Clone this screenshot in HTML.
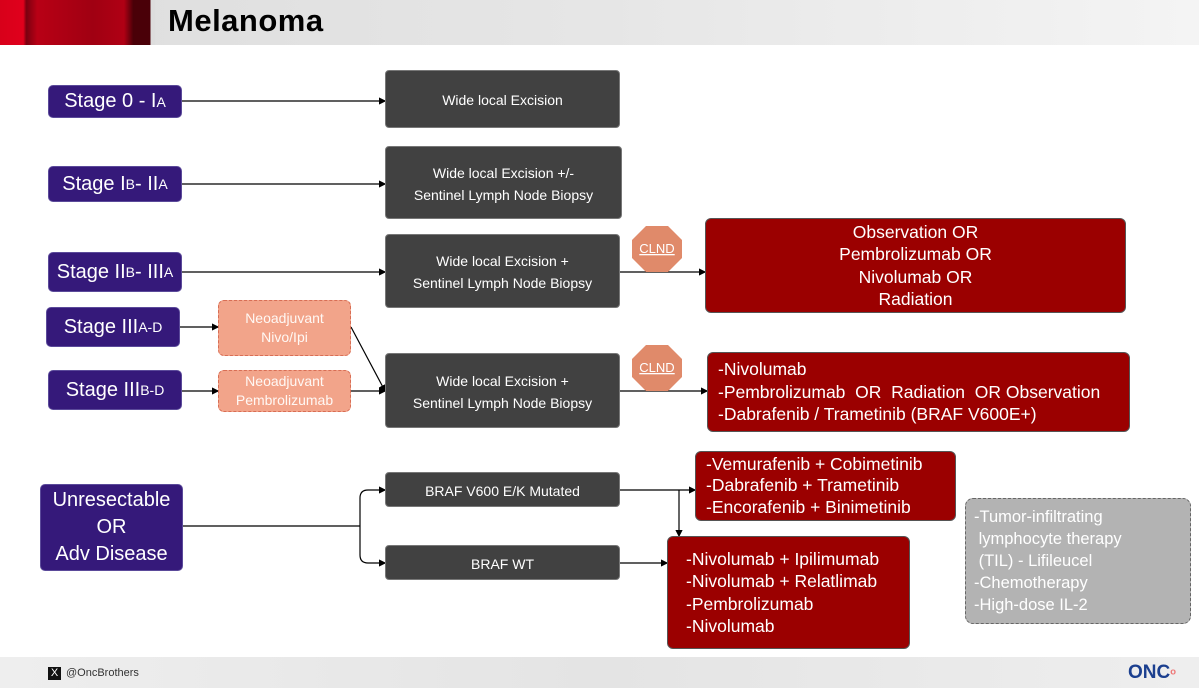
<!DOCTYPE html><html><head><meta charset="utf-8"><style>
body{margin:0;width:1199px;height:688px;position:relative;overflow:hidden;background:#fff;font-family:"Liberation Sans",sans-serif}
.b{position:absolute;box-sizing:border-box;display:flex;align-items:center;justify-content:center;text-align:center;color:#fff}
.p{background:#35197a;border-radius:5px;font-size:20px;border:1px solid #5b4a9a}
.g{background:#414141;border-radius:4px;font-size:14px;line-height:22px;border:1px solid #777;padding-top:2px}
.n{background:#f2a48a;border:1.5px dashed #d86e55;border-radius:6px;font-size:14px;line-height:19px;color:#fff8f4}
.r{background:#9b0000;border-radius:6px;font-size:17.5px;line-height:22.5px;border:1px solid #555}
.l{justify-content:flex-start;text-align:left}
sub{font-size:14px;vertical-align:baseline}
</style></head><body>
<div style="position:absolute;left:0;top:0;width:1199px;height:45px;background:linear-gradient(90deg,#ddd 0,#e6e6e6 50%,#f4f4f4 100%)"></div>
<div style="position:absolute;left:0;top:0;width:155px;height:45px;background:linear-gradient(90deg,#d8001a 0,#e0001c 15%,#7a0010 17%,#b80015 24%,#a00012 60%,#b00014 80%,#4a0008 86%,#4a0008 97%,#ddd 97%)"></div>
<div style="position:absolute;left:168px;top:3px;font-size:31px;font-weight:bold;color:#000;letter-spacing:0.5px">Melanoma</div>
<div style="position:absolute;left:0;top:657px;width:1199px;height:31px;background:linear-gradient(90deg,#eee,#e4e4e4 50%,#eee)"></div>
<div style="position:absolute;left:48px;top:667px;width:13px;height:13px;background:#111;color:#fff;font-size:11px;line-height:13px;text-align:center">X</div>
<div style="position:absolute;left:66px;top:667px;font-size:11px;color:#333">@OncBrothers</div>
<div style="position:absolute;left:1128px;top:662px;font-size:19px;font-weight:bold;color:#1b3f8f">ONC<span style="color:#e77;font-size:14px">ᵒ</span></div>
<svg style="position:absolute;left:0;top:0" width="1199" height="688"><defs><marker id="a" markerWidth="6" markerHeight="6" refX="5" refY="3" orient="auto"><path d="M0,0L6,3L0,6z" fill="#000"/></marker></defs>
<g stroke="#000" stroke-width="1.2" fill="none" marker-end="url(#a)">
<path d="M182,101H385"/><path d="M182,184H385"/><path d="M182,272H385"/><path d="M180,327H218"/><path d="M182,391H218"/><path d="M351,327L385,391"/><path d="M351,391H385"/><path d="M620,272H705"/><path d="M620,391H707"/>
<path d="M360,526V498Q360,490 368,490H385"/><path d="M360,526V555Q360,563 368,563H385"/>
<path d="M620,490H695"/><path d="M679,490V536"/><path d="M620,563H667"/></g>
<path d="M183,526H360" stroke="#000" stroke-width="1.2"/>
<polygon points="646,226 668,226 682,240 682,258 668,272 646,272 632,258 632,240" fill="#e08a6a"/>
<polygon points="646,345 668,345 682,359 682,377 668,391 646,391 632,377 632,359" fill="#e08a6a"/>
<text x="657" y="253" font-size="13" fill="#fff" text-anchor="middle" text-decoration="underline" font-family="Liberation Sans">CLND</text>
<text x="657" y="372" font-size="13" fill="#fff" text-anchor="middle" text-decoration="underline" font-family="Liberation Sans">CLND</text>
</svg>
<div class="b p" style="left:48px;top:85px;width:134px;height:33px">Stage 0 - I<sub>A</sub></div>
<div class="b p" style="left:48px;top:166px;width:134px;height:36px">Stage I<sub>B</sub> - II<sub>A</sub></div>
<div class="b p" style="left:48px;top:252px;width:134px;height:40px">Stage II<sub>B</sub> - III<sub>A</sub></div>
<div class="b p" style="left:46px;top:307px;width:134px;height:40px">Stage III<sub>A-D</sub></div>
<div class="b p" style="left:48px;top:370px;width:134px;height:40px">Stage III<sub>B-D</sub></div>
<div class="b p" style="left:40px;top:484px;width:143px;height:87px;line-height:27px">Unresectable<br>OR<br>Adv Disease</div>
<div class="b g" style="left:385px;top:70px;width:235px;height:58px">Wide local Excision</div>
<div class="b g" style="left:385px;top:146px;width:237px;height:73px">Wide local Excision +/-<br>Sentinel Lymph Node Biopsy</div>
<div class="b g" style="left:385px;top:234px;width:235px;height:74px">Wide local Excision +<br>Sentinel Lymph Node Biopsy</div>
<div class="b g" style="left:385px;top:353px;width:235px;height:75px">Wide local Excision +<br>Sentinel Lymph Node Biopsy</div>
<div class="b g" style="left:385px;top:472px;width:235px;height:35px">BRAF V600 E/K Mutated</div>
<div class="b g" style="left:385px;top:545px;width:235px;height:35px">BRAF WT</div>
<div class="b n" style="left:218px;top:300px;width:133px;height:56px">Neoadjuvant<br>Nivo/Ipi</div>
<div class="b n" style="left:218px;top:370px;width:133px;height:42px">Neoadjuvant<br>Pembrolizumab</div>
<div class="b r" style="left:705px;top:218px;width:421px;height:95px">Observation OR<br>Pembrolizumab OR<br>Nivolumab OR<br>Radiation</div>
<div class="b r l" style="left:707px;top:352px;width:423px;height:80px;padding-left:10px">-Nivolumab<br>-Pembrolizumab&nbsp; OR&nbsp; Radiation&nbsp; OR Observation<br>-Dabrafenib / Trametinib (BRAF V600E+)</div>
<div class="b r l" style="left:695px;top:451px;width:261px;height:70px;padding-left:10px;line-height:21.5px">-Vemurafenib + Cobimetinib<br>-Dabrafenib + Trametinib<br>-Encorafenib + Binimetinib</div>
<div class="b r l" style="left:667px;top:536px;width:243px;height:113px;padding-left:18px">-Nivolumab + Ipilimumab<br>-Nivolumab + Relatlimab<br>-Pembrolizumab<br>-Nivolumab</div>
<div class="b l" style="left:965px;top:498px;width:226px;height:126px;background:#b3b3b3;border:1.5px dashed #666;border-radius:8px;font-size:16.5px;line-height:22px;padding-left:8px">-Tumor-infiltrating<br>&nbsp;lymphocyte therapy<br>&nbsp;(TIL) - Lifileucel<br>-Chemotherapy<br>-High-dose IL-2</div>
</body></html>
